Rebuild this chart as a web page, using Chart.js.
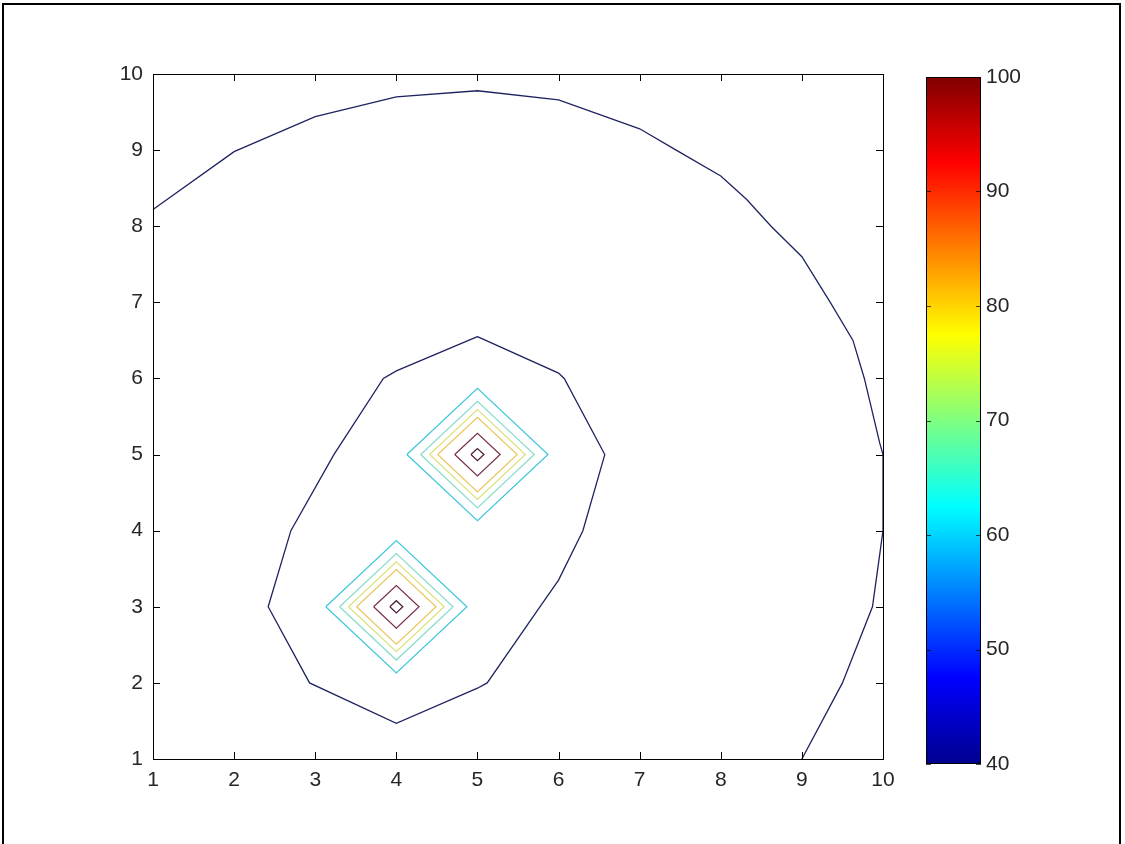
<!DOCTYPE html>
<html>
<head>
<meta charset="utf-8">
<title>contour</title>
<script src="https://cdn.jsdelivr.net/npm/chart.js@4.4.1/dist/chart.umd.min.js"></script>
<style>
  html, body { margin: 0; padding: 0; background: #fff; }
  #wrap { position: relative; width: 1125px; height: 844px; overflow: hidden; background: #fff; }
  #wrap canvas { position: absolute; left: 0; top: 0; }
  #frame { position: absolute; left: 2px; top: 3px; width: 1119px; height: 900px;
           border: 2px solid #000; box-sizing: border-box; }
</style>
</head>
<body>
<div id="wrap">
  <div id="frame"></div>
  <canvas id="plot" width="1125" height="844"></canvas>
  <canvas id="cbar" width="1125" height="844"></canvas>
</div>
<script>
// axis ticks
var axisTicks = [1, 2, 3, 4, 5, 6, 7, 8, 9, 10];
var cbarTicks = [40, 50, 60, 70, 80, 90, 100];

// level 40 contour, big arc from left edge round to bottom edge
var arcX = [1, 2, 3, 4, 5, 6, 7, 7.45, 8, 8.32, 8.62, 9, 9.35, 9.63, 9.77, 9.96, 10, 10, 9.87, 9.5, 9];
var arcY = [8.22, 8.98, 9.44, 9.70, 9.78, 9.66, 9.28, 9, 8.66, 8.35, 8, 7.60, 7, 6.5, 6, 5.15, 5, 4, 3, 2, 1];

// level 40 contour, closed loop round the two peaks
var loopX = [5, 6, 6.07, 6.57, 6.3, 6.0, 5.77, 5.12, 5, 4, 2.93, 2.42, 2.7, 3.23, 3.84, 4, 5];
var loopY = [6.55, 6.07, 6, 5, 4, 3.35, 3, 2, 1.93, 1.47, 2, 3, 4, 5, 6, 6.1, 6.55];

// the two peaks and the half-widths of their rings (outer to inner)
var peakX = [5, 4];
var peakY = [5, 3];
var ringR = [0.87, 0.70, 0.59, 0.49, 0.28, 0.08];

// styles
var navy = '#1e2360';
var ringColors = ['#3cc6da', '#86dccc', '#d9e27a', '#ebc45a', '#7a2c4c', '#4a1838'];
var txtFont = { family: "'Liberation Sans', Arial, sans-serif", size: 21 };
var txtColor = '#262626';

// jet colormap stops for the colour bar
var jetPos = [0, 0.125, 0.375, 0.625, 0.875, 1];
var jetCol = ['#00008f', '#0000ff', '#00ffff', '#ffff00', '#ff0000', '#800000'];

function pts(xs, ys) {
  var out = [];
  for (var i = 0; i < xs.length; i++) out.push({ x: xs[i], y: ys[i] });
  return out;
}

function diamond(cx, cy, r) {
  return [
    { x: cx - r, y: cy }, { x: cx, y: cy + r },
    { x: cx + r, y: cy }, { x: cx, y: cy - r }, { x: cx - r, y: cy }
  ];
}

var sets = [];
sets.push({ data: pts(arcX, arcY), borderColor: navy, borderWidth: 1.3, clip: false });
sets.push({ data: pts(loopX, loopY), borderColor: navy, borderWidth: 1.3 });
for (var p = 0; p < peakX.length; p++) {
  for (var k = 0; k < ringR.length; k++) {
    sets.push({ data: diamond(peakX[p], peakY[p], ringR[k]), borderColor: ringColors[k], borderWidth: 1.2 });
  }
}
sets.forEach(function (d) {
  d.showLine = true;
  d.pointRadius = 0;
  d.tension = 0;
  d.fill = false;
});

// inward tick marks on all four sides plus the box
var boxTicks = {
  id: 'boxTicks',
  afterDraw: function (chart) {
    var c = chart.ctx, a = chart.chartArea;
    var xs = chart.scales.x, ys = chart.scales.y;
    c.save();
    c.strokeStyle = '#000';
    c.lineWidth = 1;
    c.strokeRect(a.left + 0.5, a.top + 0.5, a.right - a.left, a.bottom - a.top);
    c.beginPath();
    axisTicks.forEach(function (v) {
      var px = Math.round(xs.getPixelForValue(v)) + 0.5;
      var py = Math.round(ys.getPixelForValue(v)) + 0.5;
      c.moveTo(px, a.bottom); c.lineTo(px, a.bottom - 7);
      c.moveTo(px, a.top); c.lineTo(px, a.top + 7);
      c.moveTo(a.left, py); c.lineTo(a.left + 7, py);
      c.moveTo(a.right, py); c.lineTo(a.right - 7, py);
    });
    c.stroke();
    c.restore();
  }
};

new Chart(document.getElementById('plot').getContext('2d'), {
  type: 'scatter',
  data: { datasets: sets },
  options: {
    responsive: false,
    animation: false,
    layout: { padding: { top: 74, right: 242, bottom: 0, left: 0 } },
    plugins: { legend: { display: false }, tooltip: { enabled: false } },
    scales: {
      x: {
        type: 'linear', min: 1, max: 10,
        afterFit: function (s) { s.height = 85; },
        grid: { display: false, drawTicks: false },
        border: { display: false },
        ticks: { stepSize: 1, padding: 9, font: txtFont, color: txtColor, maxRotation: 0 }
      },
      y: {
        type: 'linear', min: 1, max: 10,
        afterFit: function (s) { s.width = 153; },
        grid: { display: false, drawTicks: false },
        border: { display: false },
        ticks: { stepSize: 1, padding: 10, font: txtFont, color: txtColor }
      }
    }
  },
  plugins: [boxTicks]
});

// colour bar
var cbarTicksPlugin = {
  id: 'cbarTicks',
  afterDraw: function (chart) {
    var c = chart.ctx, a = chart.chartArea, ys = chart.scales.y;
    c.save();
    c.strokeStyle = '#000';
    c.lineWidth = 1;
    c.strokeRect(a.left + 0.5, a.top + 0.5, a.right - a.left - 1, a.bottom - a.top - 1);
    c.strokeStyle = 'rgba(0,0,0,0.7)';
    c.beginPath();
    cbarTicks.forEach(function (v) {
      var py = Math.round(ys.getPixelForValue(v)) + 0.5;
      c.moveTo(a.left, py); c.lineTo(a.left + 5, py);
      c.moveTo(a.right, py); c.lineTo(a.right - 5, py);
    });
    c.stroke();
    c.restore();
  }
};

new Chart(document.getElementById('cbar').getContext('2d'), {
  type: 'bar',
  data: {
    labels: [''],
    datasets: [{
      data: [[cbarTicks[0], cbarTicks[cbarTicks.length - 1]]],
      barPercentage: 1,
      categoryPercentage: 1,
      borderWidth: 0,
      backgroundColor: function (ctx) {
        var ys = ctx.chart.scales.y;
        var lo = ys ? ys.getPixelForValue(cbarTicks[0]) : NaN;
        var hi = ys ? ys.getPixelForValue(cbarTicks[cbarTicks.length - 1]) : NaN;
        if (!isFinite(lo) || !isFinite(hi)) return '#000080';
        var g = ctx.chart.ctx.createLinearGradient(0, lo, 0, hi);
        for (var i = 0; i < jetPos.length; i++) g.addColorStop(jetPos[i], jetCol[i]);
        return g;
      }
    }]
  },
  options: {
    responsive: false,
    animation: false,
    layout: { padding: { top: 77, right: 0, bottom: 80, left: 926 } },
    plugins: { legend: { display: false }, tooltip: { enabled: false } },
    scales: {
      x: { display: false },
      y: {
        position: 'right', min: 40, max: 100,
        afterFit: function (s) { s.width = 144; },
        grid: { display: false, drawTicks: false },
        border: { display: false },
        ticks: { stepSize: 10, padding: 5, font: txtFont, color: txtColor }
      }
    }
  },
  plugins: [cbarTicksPlugin]
});
</script>
</body>
</html>
